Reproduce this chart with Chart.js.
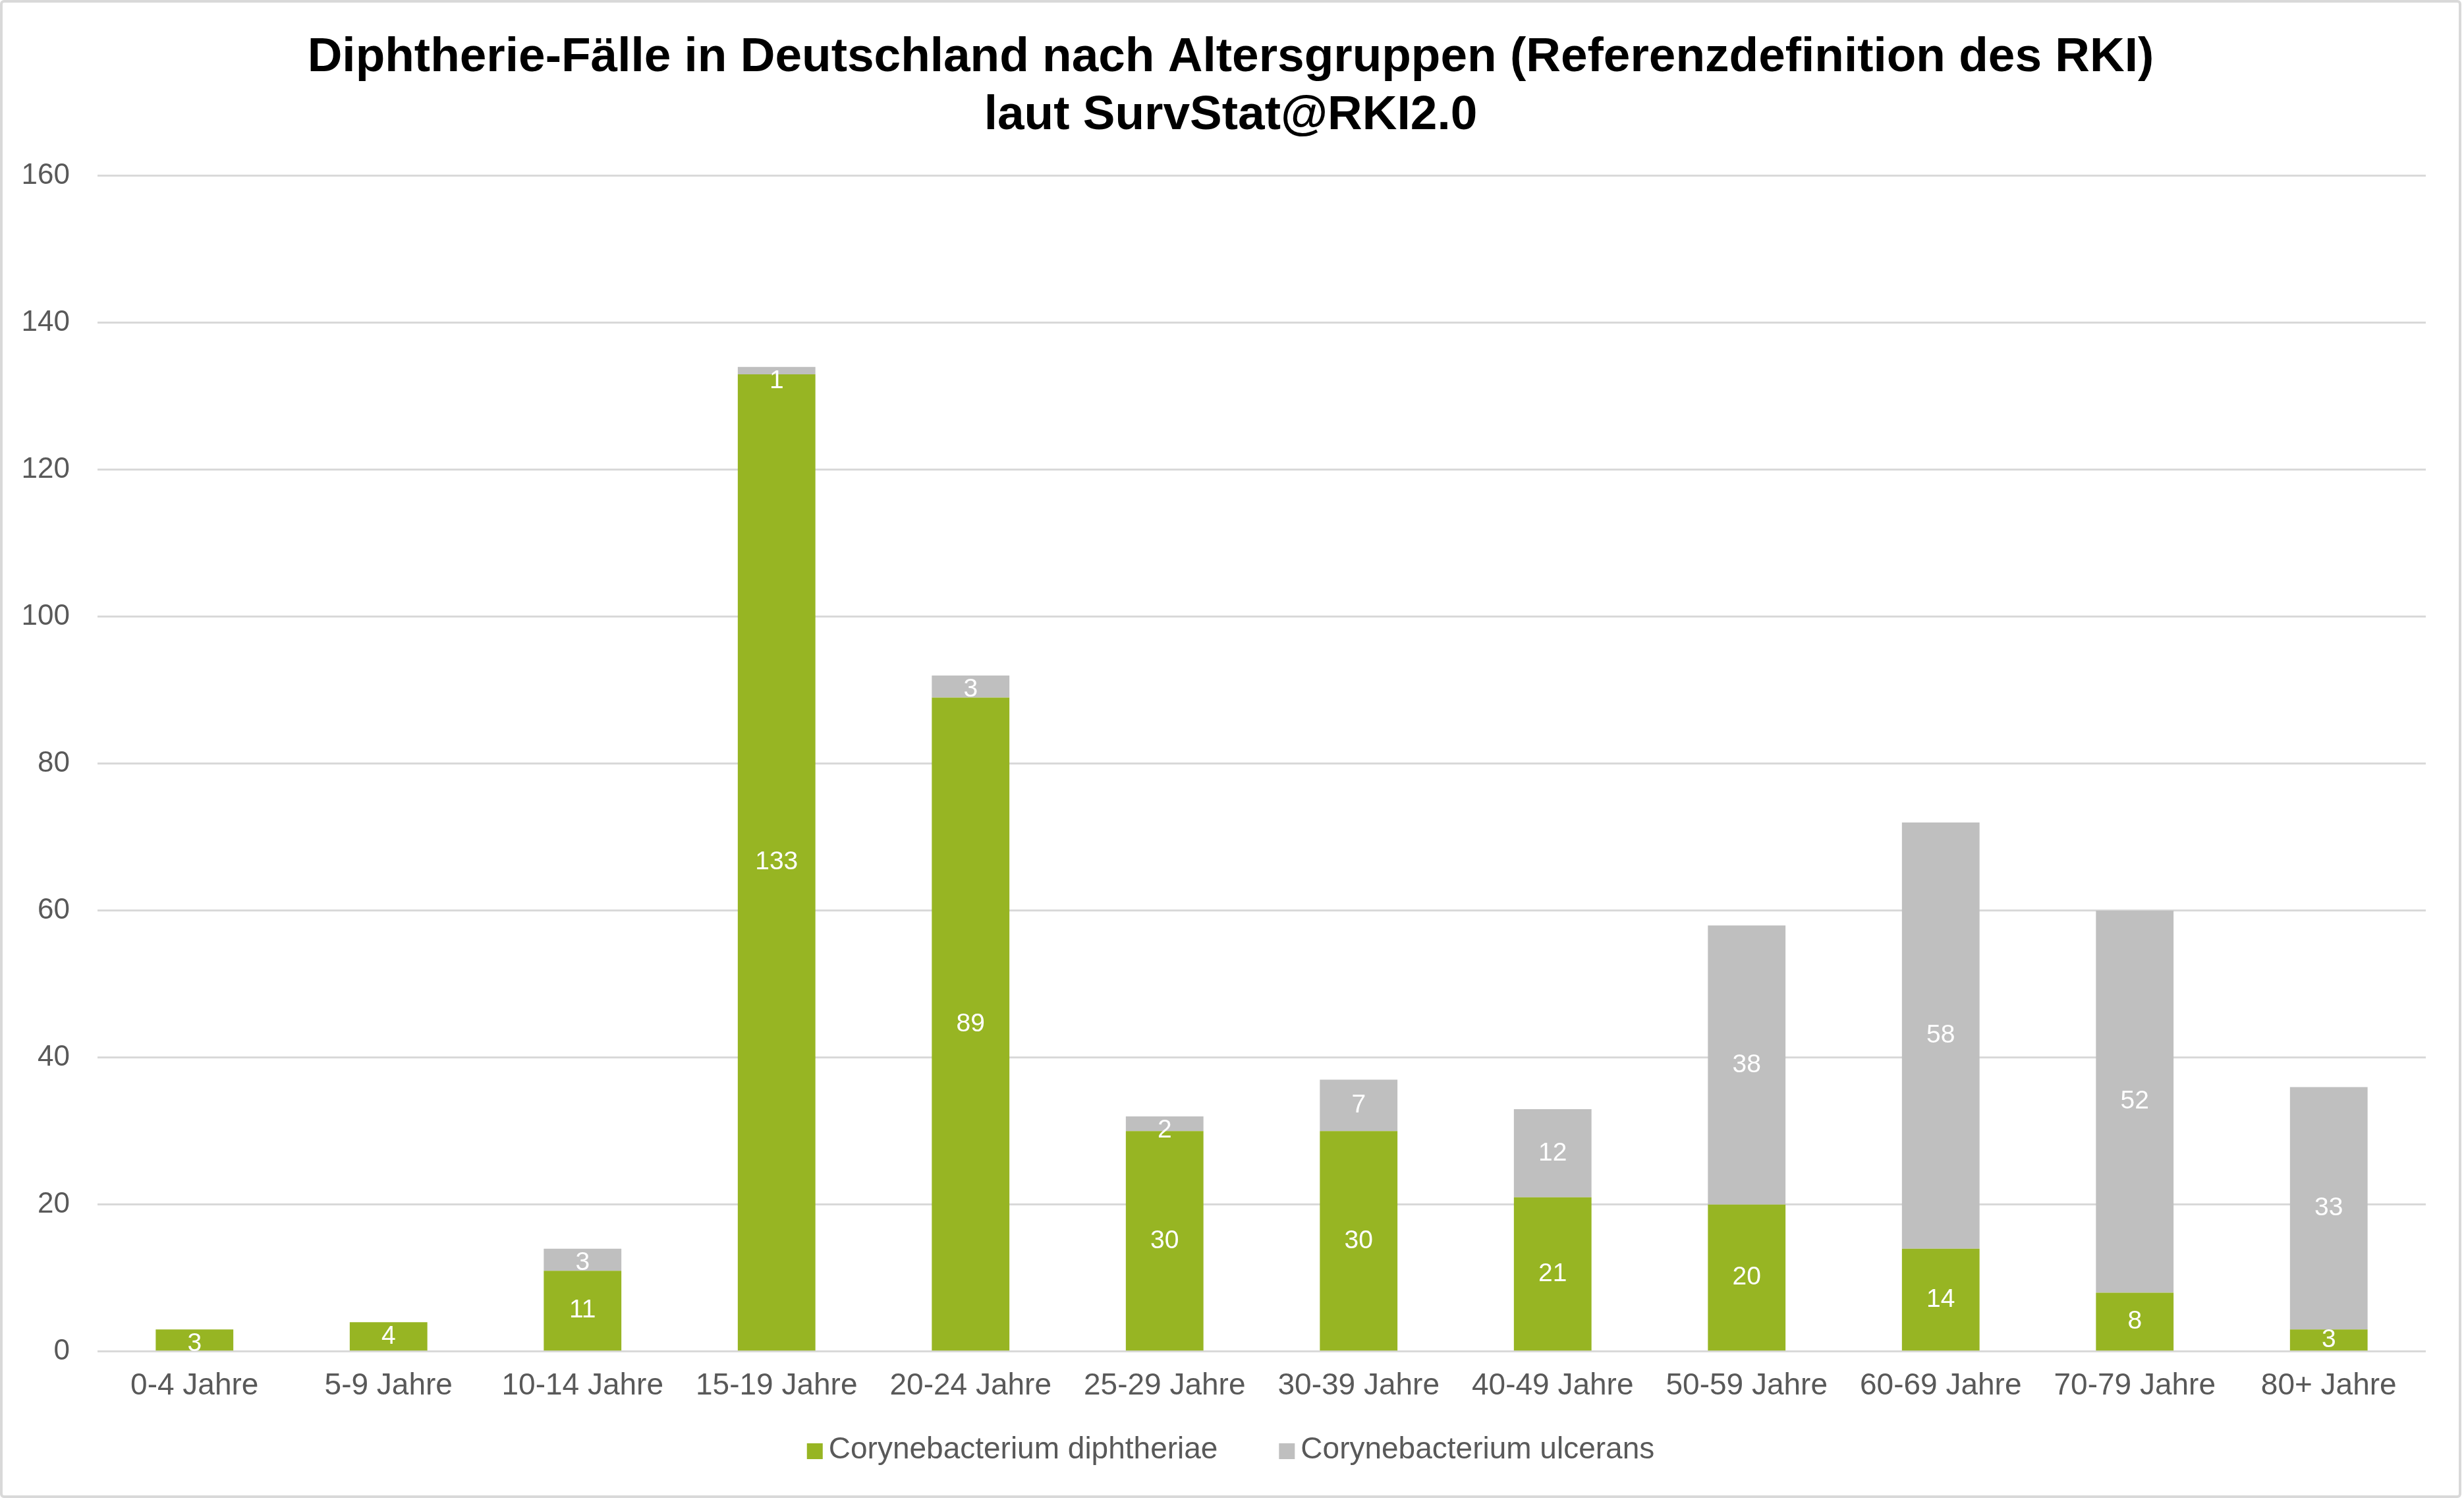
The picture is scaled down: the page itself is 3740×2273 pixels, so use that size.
<!DOCTYPE html>
<html>
<head>
<meta charset="utf-8">
<script src="https://cdn.jsdelivr.net/npm/chart.js@4"></script>
<style>
  html, body { margin: 0; padding: 0; background: #fff; }
  #wrap {
    position: absolute; left: 0; top: 0;
    width: 3736px; height: 2273px;
    box-sizing: border-box;
    border: 4px solid #d9d9d9;
    border-radius: 6px;
  }
</style>
</head>
<body>
<div id="wrap"><canvas id="chart"></canvas></div>
<script>
var ageGroups = ["0-4 Jahre", "5-9 Jahre", "10-14 Jahre", "15-19 Jahre", "20-24 Jahre", "25-29 Jahre",
                 "30-39 Jahre", "40-49 Jahre", "50-59 Jahre", "60-69 Jahre", "70-79 Jahre", "80+ Jahre"];
var diphtheriae = [3, 4, 11, 133, 89, 30, 30, 21, 20, 14, 8, 3];
var ulcerans    = [0, 0, 3, 1, 3, 2, 7, 12, 38, 58, 52, 33];
var seriesNames = ["Corynebacterium diphtheriae", "Corynebacterium ulcerans"];
var seriesColors = ['#97b523', '#bfbfbf'];
var titleLines  = ["Diphtherie-Fälle in Deutschland nach Altersgruppen (Referenzdefinition des RKI)",
                   "laut SurvStat@RKI2.0"];

var FONT = "'Liberation Sans', Arial, sans-serif";
var LEGEND_BOX = 24;

// white value labels in the middle of each segment (like Excel data labels)
var segmentLabels = {
    id: 'segmentLabels',
    afterDatasetsDraw: function(chart) {
        var ctx = chart.ctx;
        var size = 39;
        ctx.save();
        ctx.font = size + 'px ' + FONT;
        ctx.fillStyle = '#ffffff';
        ctx.textAlign = 'center';
        ctx.textBaseline = 'middle';
        var n = chart.data.datasets.length;
        var stackTop = [];
        chart.getDatasetMeta(n - 1).data.forEach(function(bar, i) {
            stackTop[i] = bar.y;
        });
        chart.data.datasets.forEach(function(ds, d) {
            chart.getDatasetMeta(d).data.forEach(function(bar, i) {
                var v = ds.data[i];
                if (!v) return;
                var y = (bar.y + bar.base) / 2;
                var top = Math.min(stackTop[i], bar.y);
                if (y < top + size * 0.55) y = top + size * 0.55;
                ctx.fillText(String(v), bar.x, y);
            });
        });
        ctx.restore();
    }
};

// square legend markers drawn close to the text (Chart.js leaves half a font size of gap)
var legendSquares = {
    id: 'legendSquares',
    afterDraw: function(chart) {
        var legend = chart.legend;
        if (!legend || !legend.legendHitBoxes) return;
        var ctx = chart.ctx;
        ctx.save();
        legend.legendHitBoxes.forEach(function(hb, i) {
            ctx.fillStyle = seriesColors[i];
            ctx.fillRect(hb.left, hb.top + (hb.height - LEGEND_BOX) / 2 + 2, LEGEND_BOX, LEGEND_BOX);
        });
        ctx.restore();
    }
};

var ctx = document.getElementById("chart");
var chart = new Chart(ctx, {
    type: 'bar',
    plugins: [segmentLabels, legendSquares],
    data: {
        labels: ageGroups,
        datasets: [
            {
                label: seriesNames[0],
                data: diphtheriae,
                backgroundColor: seriesColors[0],
                borderWidth: 0,
                barPercentage: 0.4,
                categoryPercentage: 1
            },
            {
                label: seriesNames[1],
                data: ulcerans,
                backgroundColor: seriesColors[1],
                borderWidth: 0,
                barPercentage: 0.4,
                categoryPercentage: 1
            }
        ]
    },
    options: {
        responsive: true,
        maintainAspectRatio: false,
        animation: false,
        devicePixelRatio: 1,
        layout: {
            padding: { left: 0, right: 0, top: 0, bottom: 36 }
        },
        plugins: {
            title: {
                display: true,
                text: titleLines,
                color: '#000000',
                font: { family: FONT, size: 73, weight: 'bold', lineHeight: 1.205 },
                padding: { top: 40, bottom: 47 }
            },
            legend: {
                position: 'bottom',
                labels: {
                    boxWidth: 10,
                    boxHeight: 24,
                    padding: 29,
                    color: '#595959',
                    font: { family: FONT, size: 46 },
                    generateLabels: function(chart) {
                        var items = Chart.defaults.plugins.legend.labels.generateLabels(chart);
                        items.forEach(function(it, i) {
                            it.fillStyle = 'rgba(0,0,0,0)';
                            it.strokeStyle = 'rgba(0,0,0,0)';
                            it.lineWidth = 0;
                            // wider gap between the two entries, as in the original
                            if (i < items.length - 1) it.text = it.text + '     ';
                        });
                        return items;
                    }
                }
            },
            tooltip: { enabled: false }
        },
        scales: {
            x: {
                stacked: true,
                grid: { display: false },
                border: { display: false },
                ticks: {
                    color: '#595959',
                    padding: 17,
                    maxRotation: 0,
                    font: { family: FONT, size: 46 }
                }
            },
            y: {
                stacked: true,
                min: 0,
                max: 160,
                border: { display: false },
                grid: { color: '#d9d9d9', lineWidth: 3, drawTicks: false },
                afterFit: function(scale) { scale.width = 144; },
                ticks: {
                    stepSize: 20,
                    color: '#595959',
                    padding: 42,
                    font: { family: FONT, size: 44 }
                }
            },
            // empty right-hand axis, only keeps the plot off the right border
            yRight: {
                position: 'right',
                grid: { display: false },
                border: { display: false },
                ticks: { display: false },
                afterFit: function(scale) { scale.width = 50; }
            }
        }
    }
});
</script>
</body>
</html>
